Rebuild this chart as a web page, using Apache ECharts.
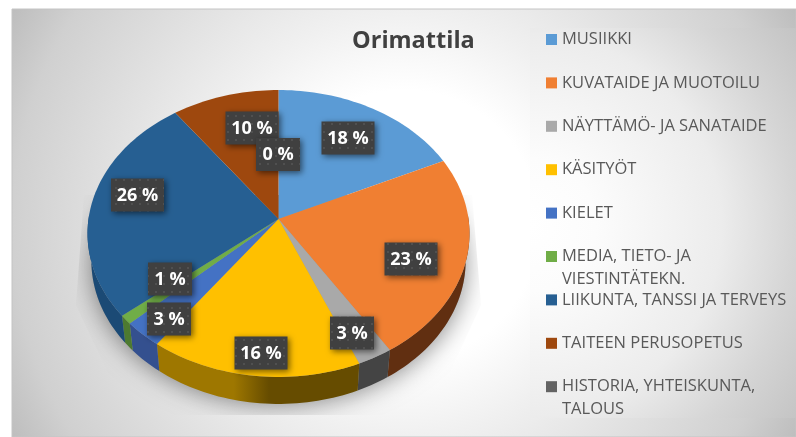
<!DOCTYPE html>
<html><head><meta charset="utf-8">
<style>html,body{margin:0;padding:0;background:#fff}#c{width:796px;height:437px}</style>
<script src="https://cdn.jsdelivr.net/npm/echarts@6/dist/echarts.min.js"></script>
</head><body><div id="c"></div>
<script>
const categories = ["MUSIIKKI","KUVATAIDE JA MUOTOILU","NÄYTTÄMÖ- JA SANATAIDE","KÄSITYÖT","KIELET","MEDIA, TIETO- JA\nVIESTINTÄTEKN.","LIIKUNTA, TANSSI JA TERVEYS","TAITEEN PERUSOPETUS","HISTORIA, YHTEISKUNTA,\nTALOUS"];
const shares = [18,23,2.7,16.3,3,1,26,10,0];
const faceColors = ["#5B9BD5","#F07F32","#A9A9A9","#FFC000","#4472C4","#70AD47","#265F92","#9E480E","#636363"];
const wallColors = ["#3a6a94","#612F11","#444444",["#9E7700","#664C00"],"#34508F","#4D7A30","#1B4A75","#6b300a","#444444"];
const labelCenters = [[348,138],[411,259],[352,333],[261,353],[169,319],[170,279],[137.5,195],[252,128],[278,154.5]];

const VIEW = {x:278.5, y:219, A:190, B:142, k:0.101, depth:27, shrink:0.98};
const LEGEND = {x:546, textX:562, top:28, row:23, step:43.4};
function project(deg){
  const t = deg*Math.PI/180, u = Math.sin(t), v = -Math.cos(t), w = 1 - VIEW.k*v;
  return [VIEW.x + VIEW.A*u/w, VIEW.y + VIEW.B*v/w];
}
function lower(p){ return [VIEW.x + (p[0]-VIEW.x)*VIEW.shrink, p[1] + VIEW.depth]; }
function arc(a,b){ const n = Math.max(2,Math.ceil(Math.abs(b-a)/1.5)), o=[]; for(let i=0;i<=n;i++) o.push(project(a+(b-a)*i/n)); return o; }

const dotCanvas = document.createElement('canvas');
dotCanvas.width = dotCanvas.height = 8;
(function(){ const g = dotCanvas.getContext('2d'); g.fillStyle='#404040'; g.fillRect(0,0,8,8); g.fillStyle='#505050'; g.fillRect(3,3,2,2); })();

let running = 0;
const sliceSeries = categories.map((name,i)=>{
  const from = running; running += shares[i];
  return {
    type:'custom', coordinateSystem:'none', name, silent:true, animation:false, clip:false, z:3,
    itemStyle:{color:faceColors[i]},
    data:[[from, running]],
    renderItem(params, api){
      const a = api.value(0)*3.6, b = api.value(1)*3.6, children = [];
      const wa = Math.max(a,88), wb = Math.min(b,272);
      if (wb > wa) {
        const rim = arc(wa,wb), pts = rim.concat(rim.map(lower).reverse());
        const wc = wallColors[i];
        const xs = pts.map(p=>p[0]);
        const fill = Array.isArray(wc) ? {type:'linear',x:Math.max(...xs),y:0,x2:Math.max(...xs)-(Math.max(...xs)-Math.min(...xs))*0.62,y2:0,global:true,
            colorStops:[{offset:0,color:wc[1]},{offset:0.72,color:wc[1]},{offset:1,color:wc[0]}]} : wc;
        children.push({type:'polygon', z2:1, shape:{points:pts}, style:{fill, stroke:null}});
      }
      if (b > a) {
        children.push({type:'polygon', z2:2, shape:{points:[[VIEW.x,VIEW.y]].concat(arc(a,b))}, style:{fill:faceColors[i], stroke:null}});
      }
      return {type:'group', children};
    }
  };
});

const shadowSeries = {
  type:'custom', coordinateSystem:'none', name:'varjo', silent:true, animation:false, clip:false, z:2, data:[[0]],
  renderItem(){ return {type:'ellipse',
    shape:{cx:278.5, cy:262, rx:187, ry:140},
    style:{fill:'#9a9a9a', shadowColor:'rgba(0,0,0,0.45)', shadowBlur:24, shadowOffsetY:3},
    clipPath:{type:'polygon', shape:{points:[[84,195],[76,305],[128,415],[430,415],[481,305],[472,195]]}}
  }; }
};

const labelSeries = {
  type:'custom', coordinateSystem:'none', name:'arvot', silent:true, animation:false, clip:false, z:5,
  data: shares.map((v,i)=>[v,i]),
  renderItem(params, api){
    const v = api.value(0), i = api.value(1), c = labelCenters[i], txt = Math.round(v)+' %';
    const w = txt.length>3 ? 53 : 44, h = 33;
    return {type:'group', children:[
      {type:'rect', z2:i*2+10, shape:{x:c[0]-w/2,y:c[1]-h/2,width:w,height:h},
        style:{fill:{image:dotCanvas,repeat:'repeat'}, shadowColor:'rgba(0,0,0,0.55)', shadowBlur:6, shadowOffsetX:2, shadowOffsetY:2}},
      {type:'text', z2:i*2+11, style:{x:c[0],y:c[1]+0.5,text:txt,align:'center',verticalAlign:'middle',fill:'#fff',font:'bold 18px "Open Sans"'}}
    ]};
  }
};

const secondLines = categories.map((n,i)=>[n.split('\n')[1],i]).filter(e=>e[0]).map(e=>({
  type:'text', z:5, style:{x:LEGEND.textX, y:LEGEND.top+LEGEND.row*1.5+e[1]*LEGEND.step, text:e[0], verticalAlign:'middle', align:'left',
    fill:'#595959', font:'16.5px "Open Sans"'}
}));

const chart = echarts.init(document.getElementById('c'), null, {renderer:'canvas'});
chart.setOption({
  animation:false,
  graphic:[
    {type:'rect', z:-3, shape:{x:12,y:9,width:784,height:428},
      style:{fill:{type:'radial',x:404,y:225,r:450,global:true,colorStops:[{offset:0,color:'#ffffff'},{offset:0.3,color:'#ffffff'},{offset:0.47,color:'#f0f0f0'},{offset:0.87,color:'#d0d0d0'},{offset:1,color:'#bcbcbc'}]}, stroke:'#c4c4c4', lineWidth:1}},
    {type:'rect', z:-2, shape:{x:530,y:28,width:266,height:390},
      style:{fill:{type:'radial',x:530,y:225,r:330,global:true,colorStops:[{offset:0,color:'#ffffff'},{offset:0.2,color:'#fcfcfc'},{offset:0.58,color:'#ececec'},{offset:0.8,color:'#d5d5d5'},{offset:1,color:'#c4c4c4'}]}}}
  ].concat(secondLines),
  title:{text:'Orimattila', left:352, top:29, padding:0,
    textStyle:{fontFamily:'"Open Sans"', fontWeight:'bold', fontSize:23.5, color:'#404040'}},
  legend:{
    data:categories, orient:'vertical', left:LEGEND.x, top:LEGEND.top, padding:0,
    icon:'rect', itemWidth:11, itemHeight:11, itemGap:LEGEND.step-LEGEND.row, selectedMode:false,
    formatter:n=>n.split('\n')[0],
    textStyle:{fontFamily:'"Open Sans"', fontSize:16.5, color:'#595959', lineHeight:LEGEND.row, padding:0}
  },
  series:[shadowSeries].concat(sliceSeries,[labelSeries])
});
</script></body></html>
